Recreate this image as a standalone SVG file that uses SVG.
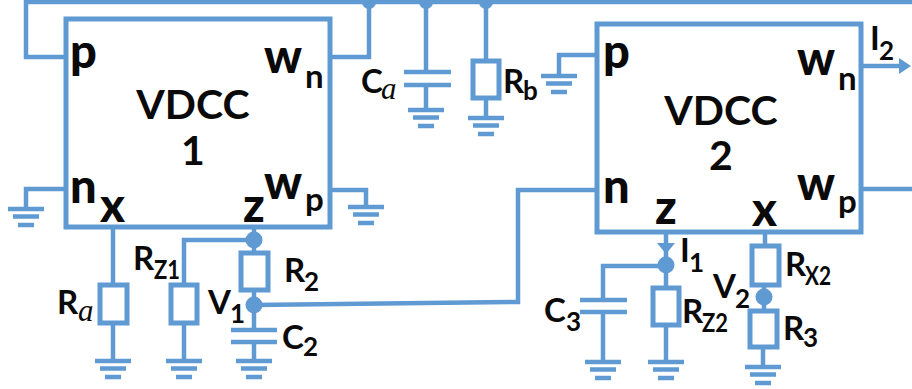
<svg xmlns="http://www.w3.org/2000/svg" width="912" height="389" viewBox="0 0 912 389">
<style>
.w{fill:none;stroke:#5f9ad3;stroke-width:4.500}
.b{fill:#fff;stroke:#5f9ad3;stroke-width:5}
.d{fill:#5f9ad3}
text{font-family:"Lato","Open Sans",sans-serif;font-weight:700;fill:#0a0a0a}
.t{font-size:41px}
.p{font-size:47px;font-weight:900}
.l{font-size:33px}
.s{font-size:26px}
.i{font-family:"Liberation Serif",serif;font-style:italic;font-weight:400;font-size:31px}
</style>
<defs>
<g id="gnd"><path class="w" d="M-18 0H18M-13 7.500H13M-8 16H8"/></g>
</defs>
<rect width="912" height="389" fill="#fff"/>
<g id="connectors">
<path class="w" d="M912 2H26V57H66"/>
<path class="w" d="M330 57H369V2"/>
<path class="w" d="M426 2V71M404 72H451M404 85H451M426 85V109"/>
<path class="w" d="M486 2V61M486 98V118"/>
<path class="w" d="M597 55H559V76"/>
<path class="w" d="M861 66H900"/>
<path class="d" d="M899 58L911 66L899 74Z"/>
<path class="w" d="M66 189H26V209"/>
<path class="w" d="M330 190H366V207"/>
<path class="w" d="M113 227V285M113 323V361"/>
<path class="w" d="M254 240H184V285M184 323V361"/>
<path class="w" d="M254 227V253M254 290V330M231 330H277M231 342H277M254 342V361"/>
<path class="w" d="M254 305L518 302V190H597"/>
<path class="w" d="M666 232V288M666 325V362"/>
<path class="w" d="M666 266H603V300M580 300H627M580 312H627M603 312V362"/>
<path class="w" d="M765 232V246M764 285V311M763 347V367"/>
<path class="w" d="M861 189H912"/>
<path class="d" d="M657 243H675L666 254Z"/>
<circle class="d" cx="369" cy="2" r="7"/>
<circle class="d" cx="426" cy="2" r="7"/>
<circle class="d" cx="486" cy="2" r="7"/>
<circle class="d" cx="254" cy="240" r="8.500"/>
<circle class="d" cx="254" cy="305" r="8.500"/>
<circle class="d" cx="666" cy="265" r="8.500"/>
<circle class="d" cx="764" cy="297" r="8.500"/>
</g>
<g id="vdcc1">
<rect class="b" x="66" y="19" width="264" height="208"/>
<text class="p" x="70" y="68">p</text>
<text class="p" x="264" y="73">w</text><text class="l" x="305" y="88">n</text>
<text class="t" text-anchor="middle" x="193" y="119">VDCC</text>
<text class="t" text-anchor="middle" x="193" y="165">1</text>
<text class="p" x="70" y="203">n</text>
<text class="p" x="100" y="222">x</text>
<text class="p" x="243" y="222">z</text>
<text class="p" x="264" y="199">w</text><text class="l" x="305" y="211">p</text>
</g>
<g id="vdcc2">
<rect class="b" x="597" y="24" width="264" height="208"/>
<text class="p" x="603" y="68">p</text>
<text class="p" x="797" y="75">w</text><text class="l" x="838" y="90">n</text>
<text class="t" text-anchor="middle" x="721" y="125">VDCC</text>
<text class="t" text-anchor="middle" x="721" y="170">2</text>
<text class="p" x="603" y="203">n</text>
<text class="p" x="655" y="224">z</text>
<text class="p" x="752" y="226">x</text>
<text class="p" x="797" y="200">w</text><text class="l" x="838" y="213">p</text>
<text class="l" x="870" y="50">I</text><text class="s" x="879" y="60">2</text>
</g>
<g id="Ca"><text class="l" x="361" y="93">C</text><text class="i" x="381" y="99">a</text><use href="#gnd" x="426" y="110"/></g>
<g id="Rb"><rect class="b" x="473" y="61" width="26" height="37"/><text class="l" x="503" y="93">R</text><text class="s" x="523" y="100">b</text><use href="#gnd" x="486" y="118"/></g>
<g id="Gp2"><use href="#gnd" x="559" y="76"/></g>
<g id="Gn1"><use href="#gnd" x="26" y="209"/></g>
<g id="Gwp1"><use href="#gnd" x="366" y="207"/></g>
<g id="Ra"><rect class="b" x="100" y="285" width="27" height="38"/><text class="l" x="57" y="314">R</text><text class="i" x="78" y="321">a</text><use href="#gnd" x="113" y="361"/></g>
<g id="Rz1"><rect class="b" x="171" y="285" width="26" height="38"/><text class="l" x="133" y="270">R</text><text class="s" x="154" y="279" textLength="26" lengthAdjust="spacingAndGlyphs">Z1</text><use href="#gnd" x="184" y="361"/></g>
<g id="R2"><rect class="b" x="241" y="253" width="27" height="37"/><text class="l" x="284" y="282">R</text><text class="s" x="304" y="291">2</text></g>
<g id="V1"><text class="l" x="208" y="314">V</text><text class="s" x="230" y="323">1</text></g>
<g id="C2"><text class="l" x="282" y="349">C</text><text class="s" x="303" y="356">2</text><use href="#gnd" x="254" y="361"/></g>
<g id="C3"><text class="l" x="544" y="322">C</text><text class="s" x="566" y="331">3</text><use href="#gnd" x="603" y="362"/></g>
<g id="Rz2"><rect class="b" x="653" y="288" width="26" height="37"/><text class="l" x="682" y="323">R</text><text class="s" x="702" y="332" textLength="26" lengthAdjust="spacingAndGlyphs">Z2</text><use href="#gnd" x="666" y="362"/></g>
<g id="I1"><text class="l" x="680" y="262">I</text><text class="s" x="689" y="272">1</text></g>
<g id="Rx2"><rect class="b" x="752" y="246" width="27" height="39"/><text class="l" x="785" y="276">R</text><text class="s" x="805" y="285" textLength="26" lengthAdjust="spacingAndGlyphs">X2</text></g>
<g id="V2"><text class="l" x="713" y="298">V</text><text class="s" x="735" y="308">2</text></g>
<g id="R3"><rect class="b" x="750" y="311" width="27" height="36"/><text class="l" x="783" y="340">R</text><text class="s" x="803" y="347">3</text><use href="#gnd" x="763" y="367"/></g>
</svg>
